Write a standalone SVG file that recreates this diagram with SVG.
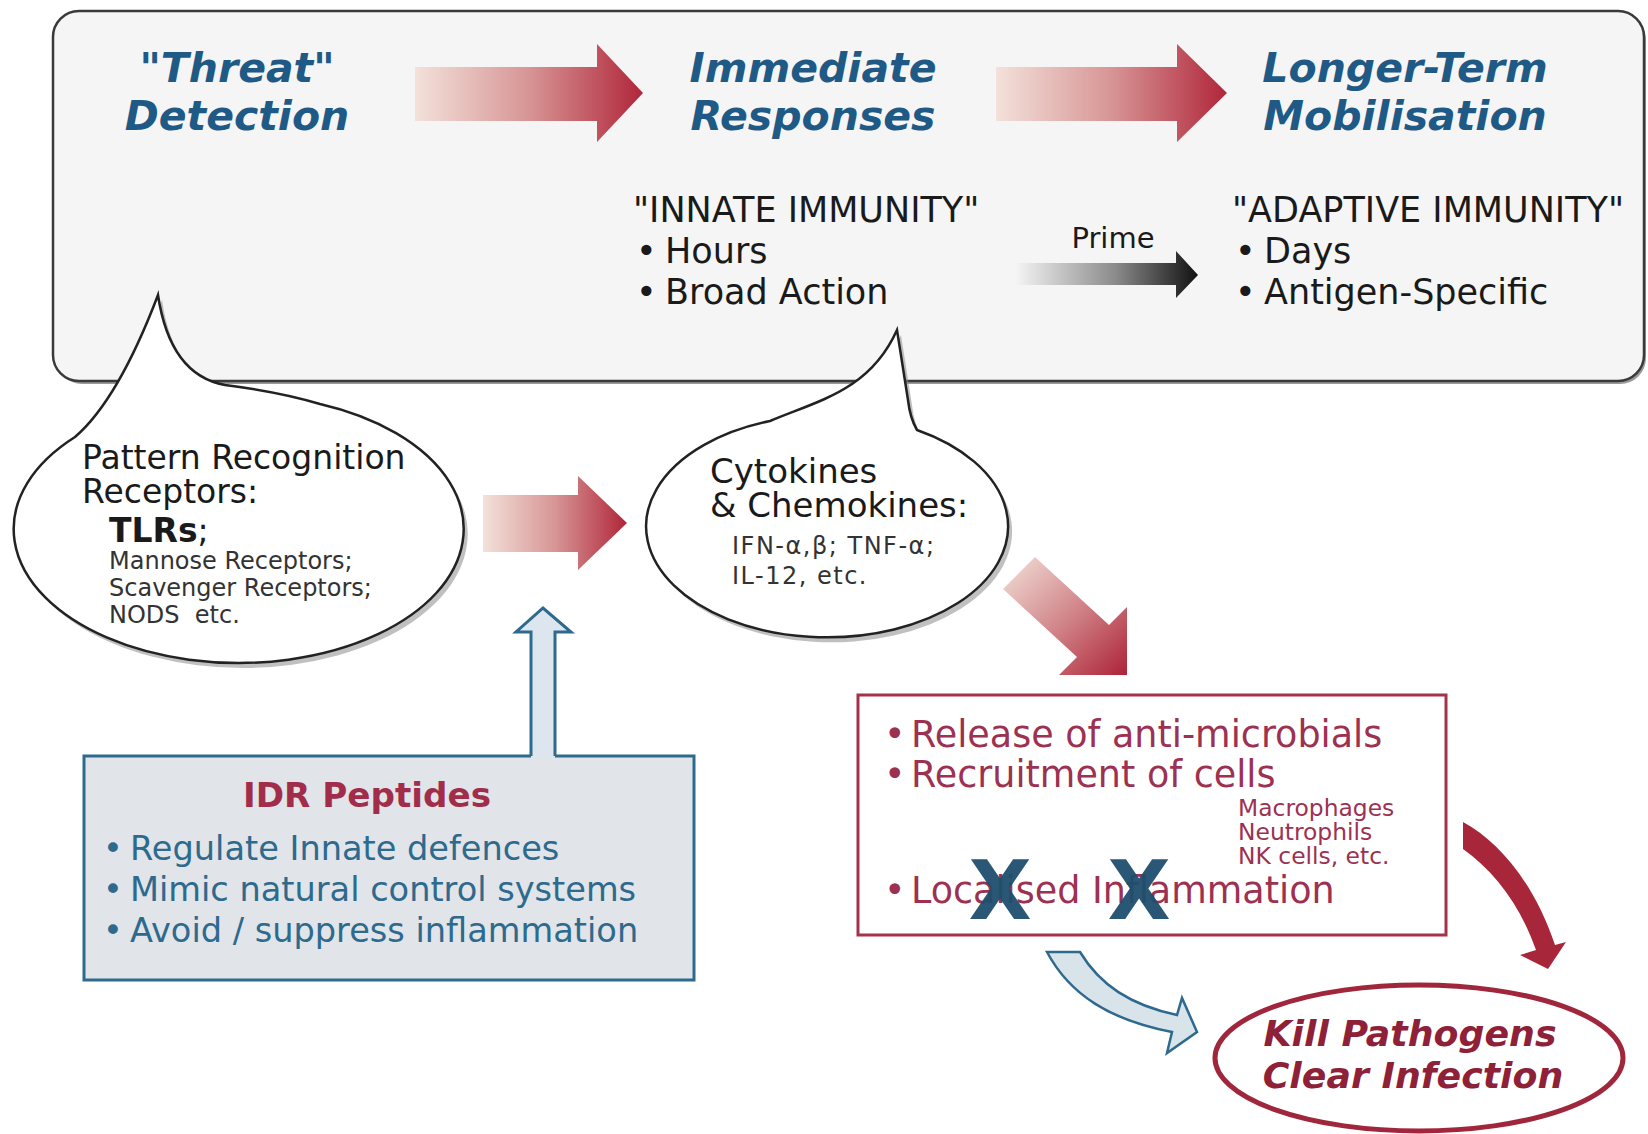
<svg xmlns="http://www.w3.org/2000/svg" width="1648" height="1134" viewBox="0 0 1648 1134">
  <defs>
    <linearGradient id="redH" x1="0" y1="0" x2="1" y2="0">
      <stop offset="0" stop-color="#f3e1da"/>
      <stop offset="0.5" stop-color="#d79595"/>
      <stop offset="1" stop-color="#b0263a"/>
    </linearGradient>
    <linearGradient id="redD" x1="0" y1="0" x2="1" y2="1">
      <stop offset="0" stop-color="#f3e1da"/>
      <stop offset="0.55" stop-color="#cf7f84"/>
      <stop offset="1" stop-color="#ad2337"/>
    </linearGradient>
    <linearGradient id="greyH" x1="0" y1="0" x2="1" y2="0">
      <stop offset="0" stop-color="#f4f4f4"/>
      <stop offset="0.55" stop-color="#8a8a8a"/>
      <stop offset="1" stop-color="#111111"/>
    </linearGradient>
    <style>
      .t { font-family: "DejaVu Sans", Verdana, sans-serif; }
      .title { font-weight: bold; font-style: italic; font-size: 41px; fill: #1f5a86; text-anchor: middle; }
      .bk { fill: #1a1a1a; }
      .bubble { fill: #ffffff; stroke: #222222; stroke-width: 2.5; }
      .shadow { fill: #8c8c8c; opacity: 0.55; }
      .resp { fill: #9c3152; }
      .idr { fill: #2d6a8e; }
      .kill { font-weight: bold; font-style: italic; font-size: 36.3px; fill: #8e2038; text-anchor: middle; }
    </style>
  </defs>

  <g id="main-panel">
    <rect x="56" y="14" width="1590" height="370" rx="26" fill="#9a9a9a"/>
    <rect x="53" y="11" width="1591" height="370" rx="26" fill="#f5f5f5" stroke="#3a3a3a" stroke-width="2.5"/>
  </g>

  <g id="threat-detection">
    <text class="t title" x="237" y="82">"Threat"</text>
    <text class="t title" x="237" y="130">Detection</text>
  </g>

  <g id="immediate-responses">
    <text class="t title" x="813" y="82">Immediate</text>
    <text class="t title" x="813" y="130">Responses</text>
  </g>

  <g id="longer-term-mobilisation">
    <text class="t title" x="1405" y="82">Longer-Term</text>
    <text class="t title" x="1405" y="130">Mobilisation</text>
  </g>

  <g id="innate-immunity" class="t bk" font-size="35">
    <text x="633" y="222">"INNATE IMMUNITY"</text>
    <text y="263"><tspan x="636">•</tspan><tspan x="665">Hours</tspan></text>
    <text y="304"><tspan x="636">•</tspan><tspan x="665">Broad Action</tspan></text>
  </g>

  <g id="adaptive-immunity" class="t bk" font-size="35">
    <text x="1232" y="222">"ADAPTIVE IMMUNITY"</text>
    <text y="263"><tspan x="1235">•</tspan><tspan x="1264">Days</tspan></text>
    <text y="304"><tspan x="1235">•</tspan><tspan x="1264">Antigen-Specific</tspan></text>
  </g>

  <g id="prr-bubble">
    <path class="shadow" transform="translate(4,5)" d="M 75,437 Q 118,400 158,295 Q 170,375 225,385 Q 280,392 320,404 A 225 134 0 1 1 75,437 Z"/>
    <path class="bubble" d="M 75,437 Q 118,400 158,295 Q 170,375 225,385 Q 280,392 320,404 A 225 134 0 1 1 75,437 Z"/>
    <g class="t bk">
      <text x="82" y="469" font-size="33">Pattern Recognition</text>
      <text x="82" y="503" font-size="33">Receptors:</text>
      <text x="109" y="542" font-size="33"><tspan font-weight="bold">TLRs</tspan>;</text>
      <text x="109" y="569" font-size="24" fill="#333">Mannose Receptors;</text>
      <text x="109" y="596" font-size="24" fill="#333">Scavenger Receptors;</text>
      <text x="109" y="623" font-size="24" fill="#333" xml:space="preserve">NODS  etc.</text>
    </g>
  </g>

  <g id="cytokines-bubble">
    <path class="shadow" transform="translate(4,5)" d="M 770,421 C 820,400 870,390 897,330 L 908,400 Q 910,418 917,430 A 181 111 0 1 1 770,421 Z"/>
    <path class="bubble" d="M 770,421 C 820,400 870,390 897,330 L 908,400 Q 910,418 917,430 A 181 111 0 1 1 770,421 Z"/>
    <g class="t bk">
      <text x="710" y="483" font-size="34">Cytokines</text>
      <text x="710" y="517" font-size="34">&amp; Chemokines:</text>
      <text x="732" y="554" font-size="24" letter-spacing="1.5" fill="#333">IFN-α,β; TNF-α;</text>
      <text x="732" y="584" font-size="24" letter-spacing="1.5" fill="#333">IL-12, etc.</text>
    </g>
  </g>

  <g id="idr-peptides">
    <rect x="84" y="756" width="610" height="224" fill="#e1e4e8" stroke="#2d6a8e" stroke-width="3"/>
    <text class="t" x="367" y="807" font-size="34.2" font-weight="bold" fill="#a12d4a" text-anchor="middle">IDR Peptides</text>
    <g class="t idr" font-size="33.6">
      <text y="860"><tspan x="103">•</tspan><tspan x="130">Regulate Innate defences</tspan></text>
      <text y="901"><tspan x="103">•</tspan><tspan x="130">Mimic natural control systems</tspan></text>
      <text y="942"><tspan x="103">•</tspan><tspan x="130">Avoid / suppress inflammation</tspan></text>
    </g>
  </g>

  <g id="innate-responses-box">
    <rect x="858" y="695" width="588" height="240" fill="#ffffff" stroke="#a3324a" stroke-width="3"/>
    <g class="t resp" font-size="36.5">
      <text y="747"><tspan x="884">•</tspan><tspan x="911">Release of anti-microbials</tspan></text>
      <text y="787"><tspan x="884">•</tspan><tspan x="911">Recruitment of cells</tspan></text>
      <text y="903"><tspan x="884">•</tspan><tspan x="911">Localised Inflammation</tspan></text>
    </g>
    <g class="t resp" font-size="23.4">
      <text x="1238" y="816">Macrophages</text>
      <text x="1238" y="840">Neutrophils</text>
      <text x="1238" y="864">NK cells, etc.</text>
    </g>
    <g class="t" font-size="82" font-weight="bold" fill="#1e4f6e" text-anchor="middle" opacity="0.95">
      <text x="1000" y="919">X</text>
      <text x="1139" y="919">X</text>
    </g>
  </g>

  <g id="kill-pathogens">
    <ellipse cx="1419" cy="1058" rx="204" ry="73" fill="#ffffff" stroke="#a0263c" stroke-width="5"/>
    <text class="t kill" x="1410" y="1046">Kill Pathogens</text>
    <text class="t kill" x="1413" y="1088">Clear Infection</text>
  </g>

  <g id="connectors">
    <polygon fill="url(#redH)" points="415,67 597,67 597,44 643,93 597,142 597,121 415,121"/>
    <polygon fill="url(#redH)" points="996,67 1177,67 1177,44 1227,93 1177,142 1177,121 996,121"/>
    <polygon fill="url(#greyH)" points="1016,263 1176,263 1176,251 1198,275 1176,298 1176,285 1016,285"/>
    <text class="t bk" x="1113" y="248" font-size="29" text-anchor="middle">Prime</text>
    <polygon fill="url(#redH)" points="483,495 578,495 578,476 627,523 578,570 578,552 483,552"/>
    <polygon fill="url(#redD)" points="1003,589 1035,557 1109,625 1127,607 1127,675 1059,675 1077,657"/>
    <g id="idr-up-arrow">
      <polygon fill="#dde6ee" points="531,758 531,632 516,632 543,608 571,632 555,632 555,758"/>
      <polyline fill="none" stroke="#2d6a8e" stroke-width="3" stroke-linejoin="miter" points="531,756 531,632 516,632 543,608 571,632 555,632 555,756"/>
    </g>
    <path fill="#a8263a" d="M 1463,822 C 1500,842 1535,885 1555,945 L 1566,942 L 1548,969 L 1520,955 L 1536,950 C 1520,905 1495,872 1463,849 Z"/>
    <path fill="#d9e3ea" stroke="#2d6a8e" stroke-width="2.5" stroke-linejoin="miter" d="M 1047,952 C 1070,995 1110,1020 1172,1032 L 1167,1053 L 1197,1032 L 1182,998 L 1177,1015 C 1130,1005 1100,985 1080,952 Z"/>
  </g>
</svg>
